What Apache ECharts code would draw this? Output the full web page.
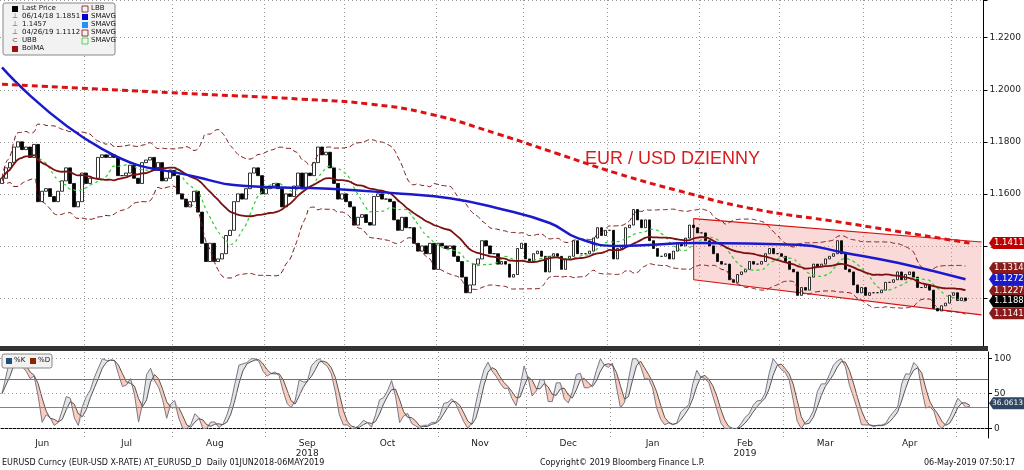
<!DOCTYPE html>
<html><head><meta charset="utf-8">
<script src="https://cdn.jsdelivr.net/npm/echarts@6/dist/echarts.min.js"></script>
<style>html,body{margin:0;padding:0;background:#fff}#c{width:1024px;height:470px}</style>
</head><body><div id="c"></div>
<script>
// Daily closes, Jun 2018 .. 6 May 2019
const closesJun=[1.166,1.170,1.172,1.178,1.180,1.177,1.178,1.174,1.179,1.157,1.161,1.162,1.159,1.157,1.161,1.165,1.170,1.164,1.155,1.157,1.168];
const closesJul=[1.164,1.166,1.166,1.174,1.175,1.174,1.175,1.174,1.167,1.167,1.168,1.171,1.166,1.164,1.172,1.173,1.174,1.169,1.172,1.165,1.166,1.169];
const closesAug=[1.167,1.160,1.158,1.155,1.157,1.161,1.153,1.141,1.134,1.141,1.134,1.135,1.137,1.144,1.146,1.157,1.160,1.158,1.162,1.168,1.170,1.167,1.160];
const closesSep=[1.162,1.163,1.164,1.162,1.155,1.160,1.159,1.163,1.168,1.162,1.168,1.167,1.172,1.178,1.175,1.176,1.170,1.164,1.158,1.160];
const closesOct=[1.157,1.155,1.148,1.151,1.152,1.149,1.148,1.159,1.160,1.158,1.158,1.157,1.150,1.146,1.151,1.147,1.147,1.141,1.138,1.140,1.137,1.141,1.131];
const closesNov=[1.141,1.140,1.139,1.140,1.136,1.134,1.128,1.122,1.125,1.133,1.135,1.142,1.140,1.137,1.137,1.133,1.134,1.133,1.128,1.129,1.139,1.141];
const closesDec=[1.135,1.134,1.137,1.138,1.136,1.130,1.136,1.137,1.136,1.131,1.135,1.136,1.142,1.137,1.137,1.137,1.138,1.143,1.147,1.144,1.146];
const closesJan=[1.146,1.135,1.139,1.140,1.147,1.148,1.154,1.150,1.147,1.150,1.142,1.139,1.136,1.136,1.137,1.135,1.138,1.141,1.140,1.143,1.148,1.147,1.145];
const closesFeb=[1.145,1.142,1.140,1.137,1.134,1.133,1.133,1.127,1.126,1.129,1.130,1.131,1.134,1.133,1.133,1.134,1.137,1.139,1.137,1.137];
const closesMar=[1.136,1.134,1.131,1.130,1.121,1.124,1.123,1.128,1.133,1.132,1.133,1.135,1.136,1.137,1.142,1.137,1.131,1.130,1.125,1.122,1.124];
const closesApr=[1.121,1.122,1.122,1.122,1.123,1.126,1.126,1.127,1.130,1.127,1.129,1.130,1.128,1.124,1.124,1.125,1.123,1.116,1.115,1.117,1.118,1.121];
const closesMay=[1.122,1.119,1.120,1.119];
const months=[["Jun",closesJun],["Jul",closesJul],["Aug",closesAug],["Sep\n2018",closesSep],["Oct",closesOct],["Nov",closesNov],["Dec",closesDec],["Jan",closesJan],["Feb\n2019",closesFeb],["Mar",closesMar],["Apr",closesApr],["",closesMay]];
// Long moving averages: [dayIndex, value]
const sma50=[[0,1.2086],[25,1.1773],[50,1.166],[62,1.1629],[82,1.162],[100,1.160],[112,1.1583],[124,1.1545],[137,1.1488],[144,1.143],[154,1.140],[174,1.1411],[199,1.1404],[211,1.1373],[224,1.1335],[241,1.1272]];
const sma200=[[0,1.2021],[25,1.2002],[50,1.1983],[75,1.1964],[92,1.1945],[107,1.1907],[124,1.1830],[139,1.1754],[154,1.1678],[169,1.1613],[187,1.1545],[211,1.1488],[242,1.1411]];
const channel=[[173,1.1505,1.1270],[245,1.1415,1.1135]];
const tags=[[1.1411,"#c00000"],[1.1314,"#8b1a1a"],[1.1272,"#1a1acc"],[1.1227,"#8b1a1a"],[1.1188,"#000"],[1.1141,"#8b1a1a"]];
const stochTag=36.0613;

const cats=[],closes=[],labelIdx={},monthStart={};
months.forEach(([m,arr])=>{monthStart[cats.length]=1;if(m)labelIdx[cats.length+Math.min(10,Math.floor(arr.length/2))]=m;arr.forEach(v=>{cats.push(cats.length);closes.push(v);});});
for(let i=0;i<4;i++)cats.push(cats.length);
const candles=closes.map((c,i)=>{const o=i?closes[i-1]:c-0.002;return [o,c,Math.min(o,c),Math.max(o,c)];});
function avg(a){return a.reduce((x,y)=>x+y,0)/a.length;}
function sma(n){return closes.map((_,i)=>+avg(closes.slice(Math.max(0,i-n+1),i+1)).toFixed(5));}
const ma20=sma(20),ma9=sma(9);
const ub=[],lb=[];
closes.forEach((_,i)=>{const s=closes.slice(Math.max(0,i-19),i+1);const m=avg(s);const sd=Math.sqrt(avg(s.map(b=>(b-m)*(b-m))));ub.push(+(m+2*sd).toFixed(5));lb.push(+(m-2*sd).toFixed(5));});
const rawK=closes.map((c,i)=>{const s=closes.slice(Math.max(0,i-13),i+1);const h=Math.max(...s),l=Math.min(...s);return h===l?50:100*(c-l)/(h-l);});
const K=rawK.map((_,i)=>avg(rawK.slice(Math.max(0,i-1),i+1)));
const D=K.map((_,i)=>avg(K.slice(Math.max(0,i-2),i+1)));
const base=K.map((k,i)=>Math.min(k,D[i])),aK=K.map((k,i)=>k>D[i]?k-D[i]:0),aD=K.map((k,i)=>D[i]>k?D[i]-k:0);

const chart=echarts.init(document.getElementById('c'));
const dotted={show:true,lineStyle:{color:'#999',type:[1,3],width:1}};
const lab={fontSize:9,color:'#222',fontFamily:'DejaVu Sans'};
const opt={animation:false,
grid:[{left:0,right:36,top:0,height:350},{left:0,right:36,top:352,height:86}],
xAxis:[{type:'category',data:cats,gridIndex:0,boundaryGap:true,axisLine:{show:false},axisTick:{show:false},axisLabel:{show:false},
  splitLine:{show:true,interval:(i)=>monthStart[i]!==undefined&&i>0,lineStyle:{color:'#999',type:[1,3]}}},
 {type:'category',data:cats,gridIndex:1,boundaryGap:true,axisLine:{lineStyle:{color:'#000'}},axisTick:{show:false},
  axisLabel:Object.assign({interval:(i)=>labelIdx[i]!==undefined,formatter:(v,i)=>labelIdx[i]||'',margin:1,lineHeight:10},lab),
  splitLine:{show:true,interval:(i)=>monthStart[i]!==undefined&&i>0,lineStyle:{color:'#999',type:[1,3]}}}],
yAxis:[{type:'value',gridIndex:0,position:'right',min:1.10,max:1.2345,interval:0.02,
  axisLine:{show:true,lineStyle:{color:'#000'}},axisTick:{show:true,length:4},
  axisLabel:Object.assign({formatter:(v)=>(v<1.11||v>1.23)?'':v.toFixed(4),margin:6},lab),
  splitLine:dotted},
 {type:'value',gridIndex:1,position:'right',min:-13.7,max:109.6,
  axisLine:{show:true,lineStyle:{color:'#000'}},axisTick:{show:true,length:4,customValues:[0,50,100]},
  axisLabel:Object.assign({customValues:[0,50,100],margin:6},lab),
  splitLine:{show:false}}],
series:[
 {type:'custom',xAxisIndex:0,yAxisIndex:0,data:[0],silent:true,z:1,renderItem:(p,api)=>{
   const a=channel[0],b=channel[1];
   const pts=[api.coord([a[0],a[1]]),api.coord([b[0],b[1]]),api.coord([b[0],b[2]]),api.coord([a[0],a[2]])];
   return {type:'group',children:[{type:'polygon',shape:{points:pts},style:{fill:'rgba(240,130,130,0.3)',stroke:'none'}},
     {type:'line',shape:{x1:pts[0][0],y1:pts[0][1],x2:pts[1][0],y2:pts[1][1]},style:{stroke:'#d81010',lineWidth:1.2}},
     {type:'line',shape:{x1:pts[3][0],y1:pts[3][1],x2:pts[2][0],y2:pts[2][1]},style:{stroke:'#d81010',lineWidth:1.2}},
     {type:'line',shape:{x1:pts[0][0],y1:pts[0][1],x2:pts[3][0],y2:pts[3][1]},style:{stroke:'#d81010',lineWidth:1}}]};}},
 {type:'candlestick',data:candles,barWidth:3,itemStyle:{color:'#fff',color0:'#000',borderColor:'#000',borderColor0:'#000',borderWidth:0.8},z:3},
 {type:'line',data:ub,showSymbol:false,smooth:true,lineStyle:{color:'#7a1010',width:1,type:[5,3]},z:4},
 {type:'line',data:lb,showSymbol:false,smooth:true,lineStyle:{color:'#7a1010',width:1,type:[5,3]},z:4},
 {type:'line',data:ma9,showSymbol:false,smooth:true,lineStyle:{color:'#33cc33',width:1.2,type:[3,3]},z:5},
 {type:'line',data:ma20,showSymbol:false,smooth:true,lineStyle:{color:'#7a1010',width:1.8},z:6},
 {type:'line',data:sma50,showSymbol:false,smooth:true,lineStyle:{color:'#1a1acc',width:2.5},z:7},
 {type:'line',data:sma200,showSymbol:false,smooth:true,lineStyle:{color:'#dd1111',width:3,type:[6,4]},z:7},
 {type:'line',xAxisIndex:1,yAxisIndex:1,data:base,stack:'s',showSymbol:false,lineStyle:{width:0},silent:true},
 {type:'line',xAxisIndex:1,yAxisIndex:1,data:aK,stack:'s',showSymbol:false,lineStyle:{width:0},areaStyle:{color:'rgba(200,200,205,0.7)'},silent:true},
 {type:'line',xAxisIndex:1,yAxisIndex:1,data:aD,stack:'s',showSymbol:false,lineStyle:{width:0},areaStyle:{color:'rgba(250,160,130,0.75)'},silent:true},
 {type:'line',xAxisIndex:1,yAxisIndex:1,data:K,showSymbol:false,lineStyle:{color:'#778',width:1},
   markLine:{silent:true,symbol:'none',label:{show:false},data:[{yAxis:70,lineStyle:{color:'#c05050',type:'solid',width:1}},{yAxis:30,lineStyle:{color:'#40b040',type:'solid',width:1}},
     {yAxis:0,lineStyle:{color:'#999',type:[1,3],width:1}},{yAxis:50,lineStyle:{color:'#999',type:[1,3],width:1}},{yAxis:100,lineStyle:{color:'#999',type:[1,3],width:1}}]}},
 {type:'line',xAxisIndex:1,yAxisIndex:1,data:D,showSymbol:false,lineStyle:{color:'#555',width:1}}
]};
chart.setOption(opt);
const g=[];
g.push({type:'rect',shape:{x:0,y:346,width:988,height:5},style:{fill:'#333'},z:100});
g.push({type:'rect',shape:{x:0,y:351,width:988,height:1},style:{fill:'#fff'},z:100});
tags.forEach(([v,c])=>{const y=chart.convertToPixel({yAxisIndex:0},v);
 g.push({type:'polygon',shape:{points:[[989,y],[993,y-6],[1024,y-6],[1024,y+6],[993,y+6]]},style:{fill:c},z:101});
 g.push({type:'text',x:994,y:y-4.5,style:{text:v.toFixed(4),fill:'#fff',font:'8.5px DejaVu Sans'},z:102});});
{const y=chart.convertToPixel({yAxisIndex:1},stochTag);
 g.push({type:'polygon',shape:{points:[[989,y],[993,y-6],[1024,y-6],[1024,y+6],[993,y+6]]},style:{fill:'#2f4660'},z:101});
 g.push({type:'text',x:992,y:y-4,style:{text:stochTag.toFixed(4),fill:'#fff',font:'7.5px DejaVu Sans'},z:102});}
g.push({type:'text',x:585,y:150,style:{text:'EUR / USD DZIENNY',fill:'#dd1a1a',font:'18px "Liberation Sans"'}});
// legend box
g.push({type:'rect',shape:{x:3,y:3,width:112,height:52,r:2},style:{fill:'#f2f2f2',stroke:'#888'}});
const L=[['Last Price','#000','box'],['06/14/18 1.1851','#555','t'],['1.1457','#555','t'],['04/26/19 1.1112','#555','t'],['UBB','#7a1010','c'],['BoIMA','#a01010','box']];
L.forEach((r,i)=>{const y=6+i*8;
 if(r[2]==='box')g.push({type:'rect',shape:{x:12,y:y,width:6,height:6},style:{fill:r[1]}});
 else g.push({type:'text',x:12,y:y-1,style:{text:r[2]==='c'?'⊂':'⊥',fill:r[1],font:'7px DejaVu Sans'}});
 g.push({type:'text',x:22,y:y-1,style:{text:r[0],fill:'#111',font:'7px DejaVu Sans'}});});
const R=[['LBB','#7a1010',0],['SMAVG','#0000cc',1],['SMAVG','#1e90ff',1],['SMAVG','#7a1010',0],['SMAVG','#33cc33',0]];
R.forEach((r,i)=>{const y=6+i*8;
 if(r[2])g.push({type:'rect',shape:{x:82,y:y,width:6,height:6},style:{fill:r[1]}});
 else g.push({type:'rect',shape:{x:82,y:y,width:6,height:6},style:{fill:'none',stroke:r[1],lineWidth:0.8}});
 g.push({type:'text',x:91,y:y-1,style:{text:r[0],fill:'#111',font:'7px DejaVu Sans'}});});
// stoch legend
g.push({type:'rect',shape:{x:2,y:354,width:50,height:14,r:2},style:{fill:'#f2f2f2',stroke:'#888'},z:100});
g.push({type:'rect',shape:{x:6,y:358,width:6,height:6},style:{fill:'#1f4e79'},z:101});
g.push({type:'text',x:14,y:357,style:{text:'%K',fill:'#111',font:'7px DejaVu Sans'},z:101});
g.push({type:'rect',shape:{x:30,y:358,width:6,height:6},style:{fill:'#8b2500'},z:101});
g.push({type:'text',x:38,y:357,style:{text:'%D',fill:'#111',font:'7px DejaVu Sans'},z:101});
// footer
g.push({type:'text',x:2,y:459,style:{text:'EURUSD Curncy (EUR-USD X-RATE) AT_EURUSD_D  Daily 01JUN2018-06MAY2019',fill:'#111',font:'8px DejaVu Sans'}});
g.push({type:'text',x:540,y:459,style:{text:'Copyright© 2019 Bloomberg Finance L.P.',fill:'#111',font:'8px DejaVu Sans'}});
g.push({type:'text',x:924,y:459,style:{text:'06-May-2019 07:50:17',fill:'#111',font:'8px DejaVu Sans'}});
chart.setOption({graphic:g});
</script></body></html>
